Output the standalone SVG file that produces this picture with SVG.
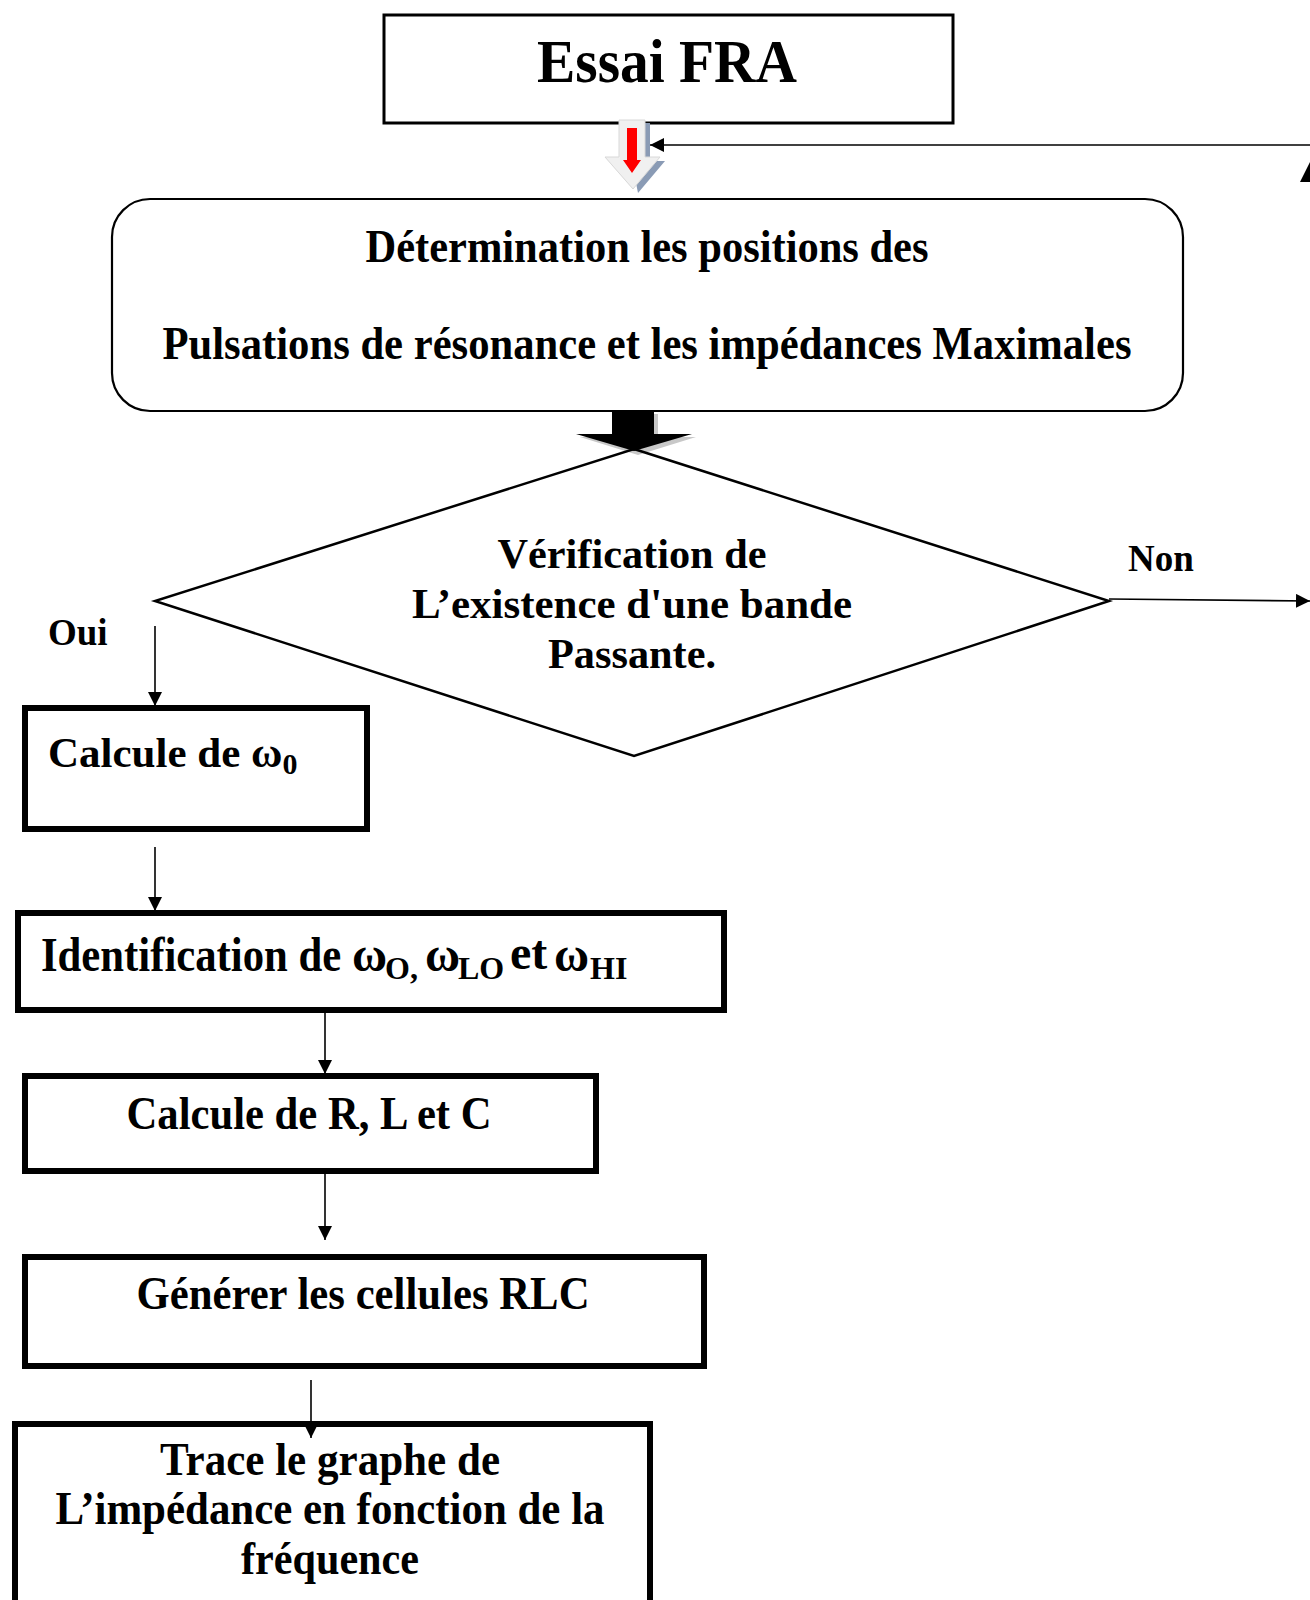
<svg xmlns="http://www.w3.org/2000/svg" width="1310" height="1600" viewBox="0 0 1310 1600">
<defs>
<style>
text{font-family:"Liberation Serif","Times New Roman",serif;font-weight:bold;fill:#000}
.box{fill:#fff;stroke:#000;stroke-width:6}
.conn{fill:none;stroke:#000;stroke-width:1.6}
.sub{font-size:32px}
</style>
<marker id="ah" markerUnits="userSpaceOnUse" markerWidth="14" markerHeight="14" refX="14" refY="7" orient="auto" viewBox="0 0 14 14">
<path d="M0,0 L14,7 L0,14 z" fill="#000"/>
</marker>
</defs>
<rect width="1310" height="1600" fill="#fff"/>

<g id="essai">
<rect x="384" y="15" width="569" height="108" fill="#fff" stroke="#000" stroke-width="3"/>
<text x="667" y="82" font-size="62" text-anchor="middle" textLength="260" lengthAdjust="spacingAndGlyphs">Essai FRA</text>
</g>

<g id="hollow-arrow">
<polygon points="624,123 650,123 650,161 665,161 638,193" fill="#8a9bb5"/>
<polygon points="619,120 645,120 645,157 660,157 633,189 605,157 619,157" fill="#f0f0f0" stroke="#d8d8d8" stroke-width="1"/>
<polygon points="627,128 637,128 637,160 641,160 632,173 623,160 627,160" fill="#ff0000"/>
</g>

<g id="determination">
<rect x="112" y="199" width="1071" height="212" rx="38" ry="38" fill="#fff" stroke="#000" stroke-width="2.2"/>
<text x="647" y="262" font-size="46" text-anchor="middle" textLength="563" lengthAdjust="spacingAndGlyphs">Détermination les positions des</text>
<text x="647" y="359" font-size="46" text-anchor="middle" textLength="969" lengthAdjust="spacingAndGlyphs">Pulsations de résonance et les impédances Maximales</text>
</g>

<g id="black-arrow">
<polygon points="616,414 658,414 658,437 696,437 638,455 580,437 616,437" fill="#c8c8c8"/>
<polygon points="612,411 654,411 654,434 692,434 634,451 576,434 612,434" fill="#000"/>
</g>

<g id="verification">
<polygon points="634,449 1109,601 634,756 155,601" fill="none" stroke="#000" stroke-width="2.5"/>
<text x="632" y="568" font-size="42" text-anchor="middle" textLength="269" lengthAdjust="spacingAndGlyphs">Vérification de</text>
<text x="632" y="618" font-size="42" text-anchor="middle" textLength="440" lengthAdjust="spacingAndGlyphs">L’existence d'une bande</text>
<text x="632" y="668" font-size="42" text-anchor="middle" textLength="168" lengthAdjust="spacingAndGlyphs">Passante.</text>
</g>

<g id="labels">
<text x="1128" y="571" font-size="37">Non</text>
<text x="48" y="645" font-size="37">Oui</text>
</g>

<g id="calcule-w0">
<rect class="box" x="25" y="708" width="342" height="121"/>
<text x="48" y="767" font-size="43">Calcule de ω<tspan font-size="30" dy="7">0</tspan></text>
</g>

<g id="identification">
<rect class="box" x="18" y="913" width="706" height="97"/>
<text transform="translate(41,971) scale(0.89,1)" font-size="48">Identification de</text>
<text x="352" y="971" font-size="48">ω</text>
<text class="sub" x="385" y="979">O,</text>
<text x="425" y="971" font-size="48">ω</text>
<text class="sub" x="458" y="979">LO</text>
<text x="510" y="969" font-size="48">et</text>
<text x="554" y="971" font-size="48">ω</text>
<text class="sub" x="590" y="979">HI</text>
</g>

<g id="calcule-rlc">
<rect class="box" x="25" y="1076" width="571" height="95"/>
<text x="309" y="1129" font-size="46" text-anchor="middle" textLength="365" lengthAdjust="spacingAndGlyphs">Calcule de R, L et C</text>
</g>

<g id="generer">
<rect class="box" x="25" y="1257" width="679" height="109"/>
<text x="363" y="1309" font-size="46" text-anchor="middle" textLength="453" lengthAdjust="spacingAndGlyphs">Générer les cellules RLC</text>
</g>

<g id="trace">
<rect class="box" x="15" y="1424" width="635" height="200"/>
<text x="330" y="1475" font-size="46" text-anchor="middle" textLength="340" lengthAdjust="spacingAndGlyphs">Trace le graphe de</text>
<text x="330" y="1524" font-size="46" text-anchor="middle" textLength="549" lengthAdjust="spacingAndGlyphs">L’impédance en fonction de la</text>
<text x="330" y="1574" font-size="46" text-anchor="middle" textLength="178" lengthAdjust="spacingAndGlyphs">fréquence</text>
</g>

<g id="connectors">
<line class="conn" x1="1310" y1="145" x2="650" y2="145" marker-end="url(#ah)"/>
<polygon points="1300,182 1312,158 1324,182" fill="#000"/>
<line class="conn" x1="1109" y1="599" x2="1310" y2="601" marker-end="url(#ah)"/>
<line class="conn" x1="155" y1="626" x2="155" y2="706" marker-end="url(#ah)"/>
<line class="conn" x1="155" y1="847" x2="155" y2="911" marker-end="url(#ah)"/>
<line class="conn" x1="325" y1="1010" x2="325" y2="1074" marker-end="url(#ah)"/>
<line class="conn" x1="325" y1="1171" x2="325" y2="1240" marker-end="url(#ah)"/>
<line class="conn" x1="311" y1="1380" x2="311" y2="1438" marker-end="url(#ah)"/>
</g>
</svg>
